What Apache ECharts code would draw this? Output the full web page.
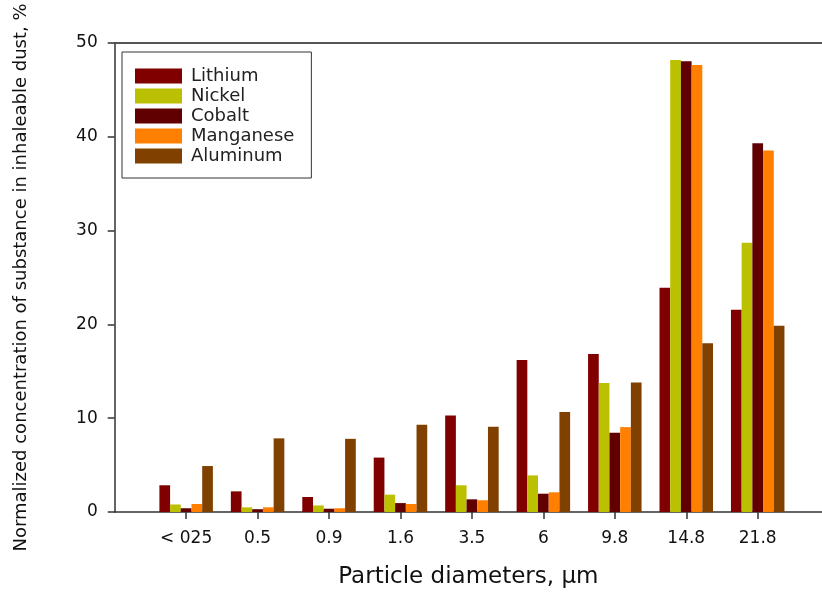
<!DOCTYPE html>
<html>
<head>
<meta charset="utf-8">
<script src="https://cdn.jsdelivr.net/npm/echarts@6/dist/echarts.min.js"></script>
<style>html,body{margin:0;padding:0;background:#fff}#c{width:822px;height:597px}</style>
</head>
<body>
<div id="c"></div>
<script>
const categories = ['< 025', '0.5', '0.9', '1.6', '3.5', '6', '9.8', '14.8', '21.8'];
const lithium   = [2.85, 2.2, 1.6, 5.8, 10.3, 16.2, 16.85, 23.9, 21.55];
const nickel    = [0.8, 0.5, 0.7, 1.85, 2.85, 3.9, 13.75, 48.2, 28.7];
const cobalt    = [0.4, 0.3, 0.35, 0.95, 1.35, 1.95, 8.45, 48.05, 39.3];
const manganese = [0.85, 0.5, 0.4, 0.85, 1.25, 2.1, 9.05, 47.65, 38.55];
const aluminum  = [4.9, 7.85, 7.8, 9.3, 9.1, 10.65, 13.8, 18.0, 19.85];
const yTicks = [0, 10, 20, 30, 40, 50];

const seriesDefs = [
  ['Lithium', lithium, '#800000'],
  ['Nickel', nickel, '#BBC000'],
  ['Cobalt', cobalt, '#600000'],
  ['Manganese', manganese, '#FF8000'],
  ['Aluminum', aluminum, '#804000']
];
const positions = categories.map((c, i) => i + 1);
const FONT = "'DejaVu Sans', 'Liberation Sans', Arial, sans-serif";

const chart = echarts.init(document.getElementById('c'), null, {renderer: 'canvas'});
chart.setOption({
  animation: false,
  backgroundColor: '#fff',
  grid: {left: 114.7, right: 0, top: 43, bottom: 85},
  legend: {
    orient: 'vertical', left: 122, top: 52,
    padding: [15, 17, 13, 13],
    itemWidth: 47, itemHeight: 15, itemGap: 2,
    borderColor: '#333', borderWidth: 1,
    icon: 'rect',
    textStyle: {fontFamily: FONT, fontSize: 18, color: '#222', padding: [0, 0, 0, 4]},
    data: seriesDefs.map(s => s[0])
  },
  xAxis: [{
    type: 'value', min: 0, max: 9.9, interval: 1,
    position: 'bottom',
    name: 'Particle diameters, \u03bcm', nameLocation: 'middle', nameGap: 54,
    nameTextStyle: {fontFamily: FONT, fontSize: 23, color: '#111'},
    axisLine: {show: true, lineStyle: {color: '#333', width: 1.5}},
    axisTick: {show: true, length: 7, lineStyle: {color: '#333', width: 1.5}, customValues: positions},
    axisLabel: {
      fontFamily: FONT, fontSize: 17, color: '#111', margin: 18,
      customValues: positions,
      formatter: v => categories[Math.round(v) - 1] || ''
    },
    splitLine: {show: false}
  }, {
    type: 'value', min: 0, max: 9.9, position: 'top',
    axisLine: {show: true, lineStyle: {color: '#555', width: 2}},
    axisTick: {show: false}, axisLabel: {show: false}, splitLine: {show: false}
  }],
  yAxis: {
    type: 'value', min: yTicks[0], max: yTicks[yTicks.length - 1], interval: 10,
    name: 'Normalized concentration of substance in inhaleable dust, %',
    nameLocation: 'middle', nameGap: 84,
    nameTextStyle: {fontFamily: FONT, fontSize: 18, color: '#111'},
    axisLine: {show: true, lineStyle: {color: '#333', width: 1.5}},
    axisTick: {show: true, length: 7, lineStyle: {color: '#333', width: 1.5}},
    axisLabel: {fontFamily: FONT, fontSize: 17, color: '#111', margin: 17},
    splitLine: {show: false}
  },
  series: seriesDefs.map(([name, vals, color]) => ({
    name, type: 'bar', xAxisIndex: 0,
    barWidth: 10.7, barGap: '0%',
    itemStyle: {color},
    data: vals.map((v, i) => [positions[i], v])
  }))
});
</script>
</body>
</html>
